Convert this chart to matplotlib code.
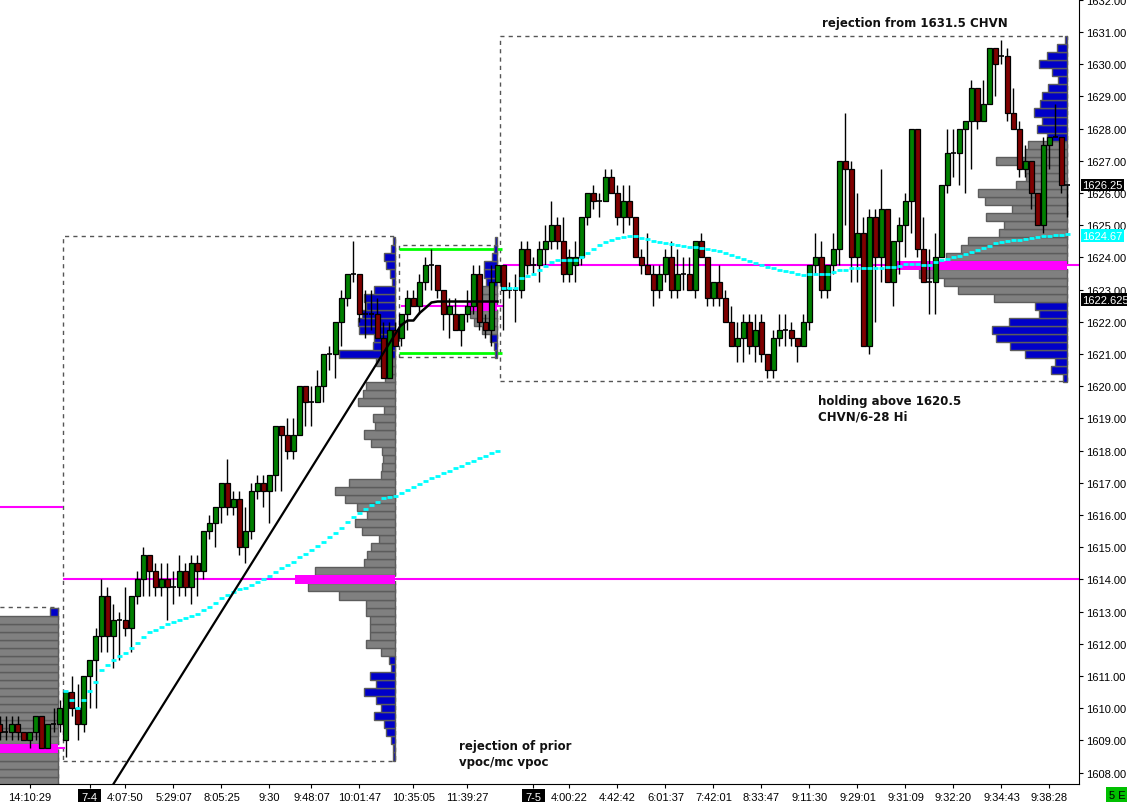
import numpy as np
import matplotlib.pyplot as plt
from matplotlib.patches import Rectangle

plt.rcParams['font.family'] = ['Liberation Sans', 'DejaVu Sans']

# ---- candles (one per bar index) ----
opens = [
    1609.5, 1609.25, 1609.25, 1609.5, 1609.25, 1609.0, 1609.25, 1609.75, 1608.75, 1609.5,
    1609.5, 1609.0, 1610.5, 1610.0, 1609.5, 1611.0, 1611.5, 1612.25, 1613.5, 1612.25,
    1612.75, 1612.75, 1612.5, 1613.5, 1614.0, 1614.75, 1614.25, 1613.75, 1614.0, 1613.75,
    1613.75, 1614.25, 1613.75, 1614.5, 1614.25, 1615.5, 1615.75, 1616.25, 1617.0, 1616.25,
    1616.5, 1615.0, 1615.5, 1616.75, 1617.0, 1616.75, 1617.25, 1618.75, 1618.5, 1618.0,
    1618.5, 1620.0, 1619.5, 1619.5, 1620.0, 1621.0, 1621.0, 1622.0, 1622.75, 1623.5,
    1623.5, 1622.25, 1622.25, 1622.25, 1621.5, 1620.25, 1621.75, 1621.5, 1622.25, 1622.75,
    1622.5, 1623.25, 1623.75, 1623.75, 1623.0, 1622.25, 1622.25, 1621.75, 1622.25, 1622.5,
    1623.5, 1622.0, 1621.75, 1623.25, 1623.75, 1623.0, 1623.0, 1623.0, 1624.25, 1623.75,
    1623.75, 1624.25, 1624.5, 1625.0, 1624.5, 1623.5, 1623.75, 1624.0, 1625.25, 1626.0,
    1625.75, 1625.75, 1626.5, 1626.0, 1625.25, 1625.75, 1625.25, 1624.0, 1623.75, 1623.5,
    1623.0, 1623.5, 1624.0, 1623.0, 1623.5, 1623.5, 1623.0, 1624.5, 1624.0, 1622.75,
    1623.25, 1622.75, 1622.0, 1621.25, 1621.5, 1622.0, 1621.25, 1622.0, 1621.0, 1620.5,
    1621.5, 1621.75, 1621.75, 1621.5, 1621.25, 1622.0, 1623.75, 1624.0, 1623.0, 1623.75,
    1624.25, 1627.0, 1626.75, 1624.0, 1624.75, 1621.25, 1625.25, 1624.0, 1625.5, 1623.25,
    1624.5, 1625.0, 1625.75, 1628.0, 1624.25, 1623.25, 1623.25, 1624.0, 1626.25, 1627.25,
    1627.25, 1628.0, 1628.25, 1629.25, 1628.25, 1628.75, 1630.5, 1630.25, 1630.25, 1628.5,
    1628.0, 1626.75, 1627.0, 1626.0, 1625.0, 1627.5, 1627.75, 1627.75, 1626.25,
]
highs = [
    1609.75, 1609.75, 1609.75, 1609.75, 1609.25, 1609.25, 1609.75, 1609.75, 1609.5, 1610.0,
    1610.25, 1610.5, 1611.0, 1610.75, 1611.0, 1611.5, 1612.5, 1614.0, 1613.75, 1613.25,
    1613.0, 1613.75, 1613.5, 1614.25, 1615.0, 1614.75, 1614.5, 1614.5, 1614.5, 1614.25,
    1614.75, 1614.5, 1614.75, 1614.75, 1615.5, 1616.0, 1616.25, 1617.0, 1617.75, 1616.75,
    1616.75, 1616.25, 1617.0, 1617.25, 1617.25, 1617.25, 1618.75, 1618.75, 1619.0, 1619.0,
    1620.0, 1620.0, 1620.0, 1620.5, 1621.0, 1621.25, 1622.0, 1623.0, 1623.5, 1624.5,
    1623.5, 1623.0, 1623.0, 1622.75, 1622.0, 1622.0, 1622.0, 1622.25, 1623.0, 1623.0,
    1623.5, 1624.0, 1624.25, 1623.75, 1623.0, 1622.75, 1622.75, 1622.25, 1623.0, 1623.75,
    1623.75, 1622.25, 1623.75, 1623.75, 1623.75, 1623.25, 1623.5, 1624.5, 1624.5, 1624.0,
    1624.5, 1625.0, 1625.75, 1625.25, 1625.25, 1624.25, 1624.5, 1625.25, 1626.0, 1626.25,
    1626.0, 1626.75, 1626.75, 1626.25, 1626.25, 1626.25, 1625.25, 1624.25, 1624.75, 1623.75,
    1623.75, 1624.25, 1624.5, 1624.25, 1624.0, 1624.0, 1624.5, 1624.75, 1624.0, 1623.25,
    1623.75, 1623.0, 1622.5, 1622.0, 1622.25, 1622.25, 1622.25, 1622.25, 1621.0, 1621.75,
    1622.25, 1622.25, 1622.0, 1621.5, 1622.25, 1623.75, 1624.75, 1624.5, 1623.75, 1624.75,
    1627.0, 1628.5, 1627.0, 1626.0, 1625.25, 1625.5, 1625.5, 1626.75, 1625.5, 1624.5,
    1625.25, 1626.0, 1628.0, 1628.0, 1625.25, 1624.25, 1624.75, 1626.25, 1628.0, 1628.0,
    1628.0, 1628.25, 1629.5, 1629.25, 1629.5, 1630.5, 1630.5, 1630.75, 1630.5, 1629.25,
    1628.25, 1627.5, 1627.0, 1626.0, 1627.75, 1627.75, 1628.75, 1627.75, 1626.25,
]
lows = [
    1609.0, 1609.0, 1609.0, 1609.0, 1609.0, 1608.75, 1609.0, 1608.75, 1608.75, 1609.25,
    1609.25, 1608.5, 1609.75, 1609.0, 1609.25, 1610.0, 1610.0, 1611.75, 1611.75, 1611.25,
    1611.5, 1612.25, 1611.75, 1613.25, 1613.5, 1613.5, 1613.5, 1613.5, 1612.75, 1613.25,
    1613.5, 1613.5, 1613.25, 1613.5, 1614.0, 1615.25, 1615.0, 1615.75, 1616.0, 1616.0,
    1614.75, 1614.5, 1615.25, 1616.5, 1616.25, 1615.75, 1616.75, 1616.75, 1617.75, 1617.75,
    1618.5, 1618.75, 1618.75, 1619.5, 1619.5, 1620.5, 1620.25, 1621.25, 1622.5, 1623.25,
    1622.0, 1621.5, 1621.75, 1621.5, 1620.25, 1620.25, 1621.25, 1621.25, 1621.75, 1622.5,
    1622.25, 1623.0, 1623.0, 1622.75, 1621.75, 1621.5, 1621.75, 1621.25, 1622.0, 1622.25,
    1621.75, 1621.5, 1621.25, 1623.25, 1621.75, 1622.75, 1622.0, 1622.75, 1623.5, 1623.5,
    1623.25, 1623.75, 1624.25, 1624.25, 1623.25, 1623.25, 1623.25, 1623.75, 1625.0, 1625.5,
    1625.25, 1625.75, 1626.0, 1625.0, 1624.75, 1625.0, 1624.0, 1623.5, 1623.5, 1622.5,
    1622.75, 1623.25, 1622.75, 1622.75, 1623.0, 1623.0, 1622.75, 1624.0, 1622.5, 1622.5,
    1622.5, 1622.0, 1621.25, 1620.75, 1620.75, 1621.0, 1620.75, 1620.75, 1620.25, 1620.25,
    1621.25, 1621.25, 1621.25, 1620.75, 1621.25, 1621.75, 1623.5, 1622.75, 1622.75, 1623.5,
    1623.75, 1625.0, 1623.25, 1623.25, 1621.25, 1621.0, 1622.0, 1623.25, 1623.25, 1622.5,
    1623.5, 1624.0, 1624.75, 1624.0, 1623.25, 1622.25, 1622.25, 1624.0, 1626.0, 1626.5,
    1626.25, 1626.0, 1626.75, 1628.0, 1628.25, 1628.75, 1629.0, 1630.0, 1628.25, 1628.0,
    1626.5, 1626.5, 1625.5, 1625.0, 1624.75, 1626.75, 1627.75, 1626.0, 1625.25,
]
closes = [
    1609.25, 1609.25, 1609.5, 1609.25, 1609.0, 1609.25, 1609.75, 1608.75, 1609.5, 1609.5,
    1610.0, 1610.5, 1610.0, 1609.5, 1611.0, 1611.5, 1612.25, 1613.5, 1612.25, 1612.75,
    1612.75, 1612.5, 1613.5, 1614.0, 1614.75, 1614.25, 1613.75, 1614.0, 1613.75, 1613.75,
    1614.25, 1613.75, 1614.5, 1614.25, 1615.5, 1615.75, 1616.25, 1617.0, 1616.25, 1616.5,
    1615.0, 1615.5, 1616.75, 1617.0, 1616.75, 1617.25, 1618.75, 1618.5, 1618.0, 1618.5,
    1620.0, 1619.5, 1619.5, 1620.0, 1621.0, 1621.0, 1622.0, 1622.75, 1623.5, 1623.5,
    1622.25, 1622.25, 1622.25, 1621.5, 1620.25, 1621.75, 1621.25, 1622.25, 1622.75, 1622.5,
    1623.25, 1623.75, 1623.75, 1623.0, 1622.25, 1622.5, 1621.75, 1622.25, 1622.5, 1623.5,
    1622.0, 1621.75, 1623.25, 1623.75, 1623.0, 1623.0, 1623.0, 1624.25, 1623.75, 1623.75,
    1624.25, 1624.5, 1625.0, 1624.5, 1623.5, 1624.0, 1624.0, 1625.25, 1626.0, 1625.75,
    1625.75, 1626.5, 1626.0, 1625.25, 1625.75, 1625.25, 1624.0, 1623.75, 1623.5, 1623.0,
    1623.5, 1624.0, 1623.0, 1623.5, 1623.5, 1623.0, 1624.5, 1624.0, 1622.75, 1623.25,
    1622.75, 1622.0, 1621.25, 1621.5, 1622.0, 1621.25, 1621.75, 1621.0, 1620.5, 1621.5,
    1621.75, 1621.75, 1621.5, 1621.25, 1622.0, 1623.75, 1624.0, 1623.0, 1623.75, 1624.25,
    1627.0, 1626.75, 1624.0, 1624.75, 1621.25, 1625.25, 1624.0, 1625.5, 1623.25, 1624.5,
    1625.0, 1625.75, 1628.0, 1624.25, 1623.25, 1623.25, 1624.0, 1626.25, 1627.25, 1627.25,
    1628.0, 1628.25, 1629.25, 1628.25, 1628.75, 1630.5, 1630.0, 1630.25, 1628.5, 1628.0,
    1626.75, 1627.0, 1626.0, 1625.0, 1627.5, 1627.75, 1627.75, 1626.25, 1626.25,
]

# ---- vwap lines ----
vwap_74_start = 11
vwap_74 = [
    1610.53, 1610.27, 1610.02, 1610.27, 1610.53, 1610.82, 1611.20, 1611.35, 1611.51, 1611.63,
    1611.72, 1611.88, 1612.04, 1612.22, 1612.38, 1612.44, 1612.53, 1612.63, 1612.69, 1612.75,
    1612.81, 1612.87, 1612.94, 1613.04, 1613.15, 1613.28, 1613.43, 1613.51, 1613.62, 1613.70,
    1613.74, 1613.83, 1613.93, 1614.02, 1614.11, 1614.24, 1614.36, 1614.46, 1614.55, 1614.70,
    1614.80, 1614.92, 1615.05, 1615.17, 1615.33, 1615.45, 1615.61, 1615.79, 1615.95, 1616.07,
    1616.20, 1616.30, 1616.41, 1616.52, 1616.57, 1616.60, 1616.68, 1616.78, 1616.86, 1616.95,
    1617.05, 1617.14, 1617.22, 1617.30, 1617.37, 1617.45, 1617.52, 1617.60, 1617.68, 1617.76,
    1617.84, 1617.92, 1618.00,
]
vwap_75_start = 84
vwap_75 = [
    1623.05, 1623.05, 1623.05, 1623.35, 1623.43, 1623.50, 1623.62, 1623.74, 1623.87, 1623.93,
    1623.93, 1623.93, 1623.93, 1624.01, 1624.14, 1624.27, 1624.37, 1624.49, 1624.55, 1624.59,
    1624.64, 1624.68, 1624.65, 1624.61, 1624.57, 1624.52, 1624.49, 1624.45, 1624.41, 1624.38,
    1624.34, 1624.31, 1624.33, 1624.30, 1624.26, 1624.23, 1624.20, 1624.14, 1624.07, 1624.01,
    1623.95, 1623.90, 1623.83, 1623.76, 1623.71, 1623.68, 1623.62, 1623.58, 1623.56, 1623.50,
    1623.46, 1623.48, 1623.48, 1623.48, 1623.48, 1623.56, 1623.62, 1623.62, 1623.66, 1623.66,
    1623.66, 1623.66, 1623.68, 1623.68, 1623.71, 1623.71, 1623.74, 1623.79, 1623.79, 1623.79,
    1623.77, 1623.77, 1623.85, 1623.91, 1623.95, 1624.00, 1624.05, 1624.12, 1624.18, 1624.24,
    1624.29, 1624.36, 1624.44, 1624.47, 1624.51, 1624.54, 1624.55, 1624.57, 1624.59, 1624.62,
    1624.65, 1624.67, 1624.70, 1624.71, 1624.72,
]
vwap_1035_start = 67
vwap_1035 = [1621.90, 1622.04, 1622.04, 1622.27, 1622.43, 1622.60] + [1622.63] * 11

# ---- volume profiles (price rows, volume) ----
prof_prev_prices = np.arange(1607.75, 1613.01, 0.25)
prof_prev_vol = [110, 120, 130, 125, 115, 120, 110, 105, 115, 120, 110,
                 100, 105, 110, 100, 95, 105, 100, 110, 100, 95, 8]
prof_74_prices = np.arange(1608.5, 1624.51, 0.25)
prof_74_vol = [2, 2, 4, 9, 11, 21, 14, 19, 31, 19, 25, 4, 6,
               14, 29, 25, 25, 25, 29, 29, 56, 87, 100, 80, 31, 28, 24, 16, 33, 40, 28, 38, 50,
               60, 46, 14, 13, 12, 13, 24, 31, 20, 22, 11, 37, 32, 29, 10, 11, 19,
               56, 22, 21, 36, 37, 33, 29, 31, 21, 3, 5, 9, 11, 4, 2]
prof_1035_prices = np.arange(1621.0, 1624.51, 0.25)
prof_1035_vol = [2, 3, 7, 15, 23, 27, 30, 20, 18, 11, 13, 13, 5, 3, 2]
prof_75_prices = np.arange(1620.25, 1630.76, 0.25)
prof_75_vol = [4, 16, 12, 42, 57, 71, 75, 58, 28, 32,
               73, 109, 123, 148, 170, 121, 106, 99, 68, 63, 81, 55, 82, 89, 51, 41, 42, 71, 42, 39,
               20, 30, 25, 33, 27, 25, 19, 9, 15, 28, 20, 10, 2]

# x axis labels
time_ticks = [5, 15, 21, 29, 37, 45, 52, 60, 69, 78, 89,
              95, 103, 111, 119, 127, 135, 143, 151, 159, 167, 175]
time_labels = ['14:10:29', '7-4', '4:07:50', '5:29:07', '8:05:25', '9:30', '9:48:07',
               '10:01:47', '10:35:05', '11:39:27', '7-5', '4:00:22', '4:42:42', '6:01:37',
               '7:42:01', '8:33:47', '9:11:30', '9:29:01', '9:31:09', '9:32:20', '9:34:43',
               '9:38:28']

GREEN = '#008000'
RED = '#800000'
BLUE = '#0000c8'
GRAY = '#808080'
MAGENTA = '#ff00ff'
CYAN = '#00ffff'

fig = plt.figure(figsize=(11.27, 8.03), dpi=100)
ax = fig.add_axes([0, 18 / 803, 1079 / 1127, 785 / 803])

o = np.array(opens); h = np.array(highs); l = np.array(lows); c = np.array(closes)
idx = np.arange(len(o))


def draw_profile(prices, vols, anchor, va_low, va_high, poc, scale=1 / 6):
    prices = np.round(np.asarray(prices), 2)
    w = np.asarray(vols, dtype=float) * scale
    in_va = (prices >= va_low) & (prices <= va_high)
    is_poc = np.isclose(prices, poc)
    cols = np.where(in_va, GRAY, BLUE)
    m = ~is_poc
    ax.barh(prices[m], w[m], left=anchor - w[m], height=0.25, color=cols[m],
            edgecolor='#5c5c5c', linewidth=1, zorder=2)
    ax.barh(prices[is_poc], w[is_poc], left=anchor - w[is_poc], height=0.3,
            color=MAGENTA, linewidth=0, zorder=2.2)


# dashed session boxes
for x0, x1, y0, y1 in [(-3, 9.8, 1606.0, 1613.13), (10.5, 65.9, 1608.36, 1624.66),
                       (66.6, 82.9, 1620.92, 1624.39), (83.4, 177.9, 1620.16, 1630.88)]:
    ax.add_patch(Rectangle((x0, y0), x1 - x0, y1 - y0, fill=False, ec='#555555',
                           lw=1, ls=(0, (3, 3)), zorder=1))

# naked poc / reference lines
ax.hlines(1616.25, -1, 10.6, color=MAGENTA, lw=1.5, zorder=1.5)
ax.hlines(1608.75, 9.8, 10.9, color=MAGENTA, lw=1.5, zorder=1.5)
ax.hlines(1614.0, 10.6, 181, color=MAGENTA, lw=1.5, zorder=1.5)
ax.hlines(1622.5, 66.9, 84.0, color=MAGENTA, lw=1.5, zorder=1.5)
ax.hlines(1623.75, 83.9, 181, color=MAGENTA, lw=1.5, zorder=1.5)

# initial balance lines
ax.hlines([1624.27, 1621.03], 66.6, 83.75, color='#00ff00', lw=2, zorder=1.6)

draw_profile(prof_prev_prices, prof_prev_vol, 9.8, 1607.75, 1612.75, 1608.75)
draw_profile(prof_74_prices, prof_74_vol, 65.9, 1611.75, 1620.75, 1614.0)
draw_profile(prof_1035_prices, prof_1035_vol, 82.9, 1621.75, 1623.0, 1622.5)
draw_profile(prof_75_prices, prof_75_vol, 177.9, 1622.75, 1627.5, 1623.75)

# candles
bw = 0.75
ax.vlines(idx, l, h, color='black', lw=1, zorder=3)
up = c > o
dn = c < o
fl = c == o
ax.bar(idx[up], (c - o)[up], bottom=o[up], width=bw, color=GREEN, edgecolor='black',
       linewidth=0.9, zorder=4)
ax.bar(idx[dn], (o - c)[dn], bottom=c[dn], width=bw, color=RED, edgecolor='black',
       linewidth=0.9, zorder=4)
ax.hlines(c[fl], idx[fl] - bw / 2, idx[fl] + bw / 2, color='black', lw=1.2, zorder=4)

# vwap dashes
for start, vals in [(vwap_74_start, vwap_74), (vwap_75_start, vwap_75)]:
    xs = np.arange(start, start + len(vals))
    ax.hlines(vals, xs - 0.45, xs + 0.45, color=CYAN, lw=2, zorder=5)

xs = np.arange(vwap_1035_start, vwap_1035_start + len(vwap_1035))
ax.plot(xs, vwap_1035, color='black', lw=1.8, zorder=5)

# trend line
ax.plot([18.5, 66.9], [1607.5, 1621.9], color='black', lw=1.6, zorder=5)

# annotations
tkw = dict(fontsize=8.5, fontweight='bold', color='#111111', zorder=8,
           family=['DejaVu Sans'])
ax.text(137.1, 1631.28, 'rejection from 1631.5 CHVN', ha='left', va='center', **tkw)
ax.text(136.4, 1619.32, 'holding above 1620.5\nCHVN/6-28 Hi', ha='left', va='center',
        linespacing=1.3, **tkw)
ax.text(76.6, 1608.6, 'rejection of prior\nvpoc/mc vpoc', ha='left', va='center',
        linespacing=1.3, **tkw)

# axes
ax.set_xlim(0.083, 179.92)
ax.set_ylim(1607.646, 1632.025)
ax.spines['left'].set_visible(False)
ax.spines['top'].set_visible(False)
ax.yaxis.tick_right()
ax.set_yticks(np.arange(1608, 1633, 1))
ax.yaxis.set_major_formatter('{x:.2f}')
ax.tick_params(axis='y', direction='out', length=3, labelsize=8, pad=2)
ax.set_xticks(time_ticks)
ax.set_xticklabels(time_labels)
ax.tick_params(axis='x', direction='out', length=3, labelsize=8, pad=3)
for lab in ax.get_xticklabels():
    if lab.get_text() in ('7-4', '7-5'):
        lab.set_color('white')
        lab.set_bbox(dict(boxstyle='square,pad=0.3', fc='black', ec='none'))

# price markers on the right axis
ytr = ax.get_yaxis_transform()
for val, txt, bg in [(1626.25, '1626.25', 'black'), (1624.67, '1624.67', CYAN),
                     (1622.69, '1622.625', 'black')]:
    ax.text(1.003, val, txt, transform=ytr, ha='left', va='center', color='white',
            fontsize=8, clip_on=False, zorder=10,
            bbox=dict(boxstyle='square,pad=0.12', fc=bg, ec='none'))

fig.text(1117 / 1127, 1 - 796 / 803, '5 E', ha='center', va='center', fontsize=8,
         color='black', bbox=dict(boxstyle='square,pad=0.25', fc='#00c000', ec='none'))

fig.savefig('out.png', dpi=100)
